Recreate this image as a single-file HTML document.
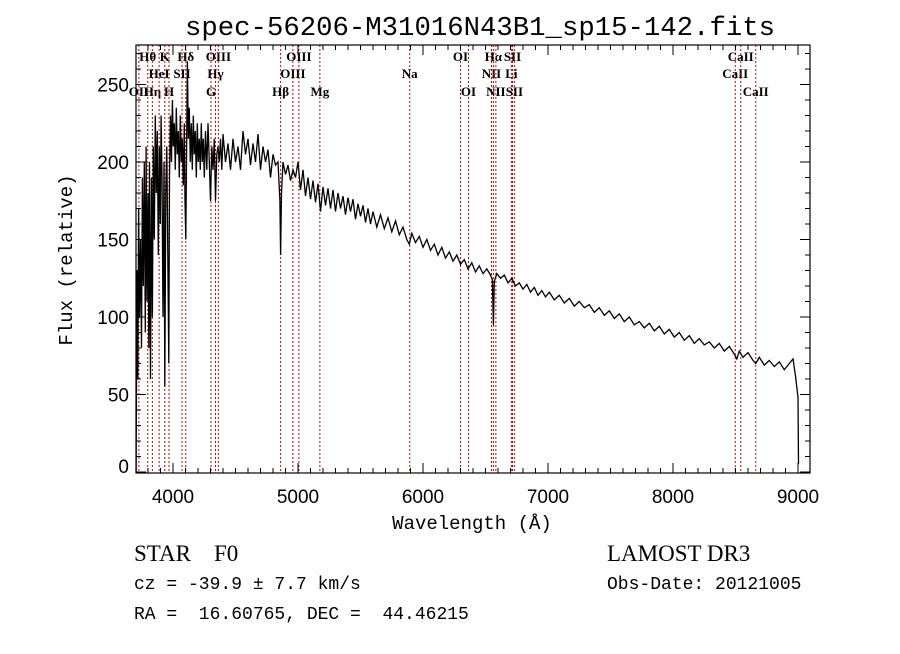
<!DOCTYPE html>
<html><head><meta charset="utf-8"><style>
body{margin:0;background:#fff;}
svg text{fill:#000}
</style></head><body>
<svg id="chart" width="900" height="649" viewBox="0 0 900 649" xmlns="http://www.w3.org/2000/svg">
<rect width="900" height="649" fill="#fff"/>
<text x="480" y="35" text-anchor="middle" font-family="Liberation Mono, monospace" font-size="27" textLength="590" lengthAdjust="spacingAndGlyphs">spec-56206-M31016N43B1_sp15-142.fits</text>
<g id="lines"></g>
<g id="spec"></g>
<g id="axes"></g>
<text x="472" y="529" text-anchor="middle" font-family="Liberation Mono, monospace" font-size="19">Wavelength (Å)</text>
<text transform="translate(72,260) rotate(-90)" text-anchor="middle" font-family="Liberation Mono, monospace" font-size="19">Flux (relative)</text>
<text x="134" y="561" font-family="Liberation Serif, serif" font-size="23" xml:space="preserve">STAR    F0</text>
<text x="607" y="561" font-family="Liberation Serif, serif" font-size="23">LAMOST DR3</text>
<text x="134" y="589" font-family="Liberation Mono, monospace" font-size="18">cz = -39.9 ± 7.7 km/s</text>
<text x="607" y="589" font-family="Liberation Mono, monospace" font-size="18">Obs-Date: 20121005</text>
<text x="134" y="619" font-family="Liberation Mono, monospace" font-size="18" xml:space="preserve">RA =  16.60765, DEC =  44.46215</text>
</svg>
<script>
const wave=[3705,3712,3718,3725,3732,3740,3748,3755,3762,3770,3778,3785,3792,3800,3806,3812,3820,3828,3835,3842,3850,3858,3866,3874,3882,3890,3898,3905,3912,3920,3928,3934,3942,3950,3958,3966,3972,3980,3988,3995,4002,4010,4018,4026,4034,4042,4050,4058,4066,4074,4082,4090,4096,4102,4108,4115,4122,4130,4138,4146,4154,4162,4170,4178,4186,4194,4202,4210,4218,4226,4234,4242,4250,4260,4270,4280,4290,4300,4310,4320,4330,4340,4350,4360,4370,4380,4390,4400,4420,4440,4460,4480,4500,4520,4540,4560,4580,4600,4620,4640,4660,4680,4700,4720,4740,4760,4780,4800,4820,4840,4855,4861,4868,4880,4900,4920,4940,4960,4980,5000,
5020,5040,5060,5080,5100,5120,5140,5160,5180,5200,5220,5240,5260,5280,5300,5320,5340,5360,5380,5400,5420,5440,5460,5480,5500,5520,5540,5560,5580,5600,5630,5660,5690,5720,5750,5780,5810,5840,5870,5890,5910,5940,5970,6000,6030,6060,6090,6120,6150,6180,6210,6240,6270,6300,6330,6360,6390,6420,6450,6480,6510,6540,6555,6563,6570,6590,6620,6650,6680,6710,6740,6770,6800,6830,6860,6890,6920,6950,6980,7010,7050,7090,7130,7170,7210,7250,7290,7330,7370,7410,7450,7490,7530,7570,7610,7650,7690,7730,7770,7810,7850,7890,7930,7970,8010,8050,8090,8130,8170,8210,8250,8290,8330,8370,8410,8450,8490,8510,8530,8560,8600,8640,8662,8690,8730,8770,8810,8850,8890,8930,8960,8980,9000,9004];
const flux=[0,130,60,170,100,150,80,190,120,200,90,210,110,180,80,200,60,190,100,210,150,230,180,220,140,210,160,230,190,100,200,55,180,210,140,70,190,230,200,240,210,225,195,235,205,220,190,230,200,215,185,225,175,150,200,265,215,235,200,225,195,230,205,220,190,225,200,215,195,225,200,215,190,220,195,225,200,175,210,195,215,175,205,210,200,215,195,218,200,212,195,215,200,210,195,220,205,215,198,212,200,218,195,210,200,208,190,205,198,200,175,140,180,200,192,198,188,195,190,200,
182,195,178,190,176,188,174,186,168,184,172,183,170,182,168,180,170,178,166,177,168,176,163,173,165,172,161,170,160,168,158,166,157,164,155,162,153,158,150,147,154,148,152,145,150,143,147,140,145,138,142,136,140,134,137,131,135,129,133,128,131,127,124,95,123,128,125,127,122,125,120,122,118,121,116,119,114,117,113,116,111,114,109,112,107,110,106,108,103,106,101,104,99,102,97,100,95,97,93,96,91,94,89,92,87,90,85,88,83,86,82,84,80,83,78,81,76,73,78,74,77,72,70,74,69,72,68,71,66,70,73,62,48,5];
const lineWaves=[3727,3798,3835,3889,3934,3968,4072,4102,4304,4340,4363,4861,4959,5007,5175,5894,6300,6364,6548,6563,6583,6707,6716,6731,8498,8542,8662];
const lineLabels=["OII","Hθ","Hη","HeI","K","H","SII","Hδ","G","Hγ","OIII","Hβ","OIII","OIII","Mg","Na","OI","OI","NII","Hα","NII","Li","SII","SII","CaII","CaII","CaII"];
const lineRows=[2,0,2,1,0,2,1,0,2,1,0,2,1,0,2,1,0,2,1,0,2,1,0,2,1,0,2];
const xTicks=[4000,5000,6000,7000,8000,9000];
const yTicks=[0,50,100,150,200,250];

const L=136,R=810,T=45,B=473;
const x=w=>298+(w-5000)*0.125;
const y=v=>472-v*1.55;
const NS="http://www.w3.org/2000/svg";
function mk(tag,parent,attrs){const e=document.createElementNS(NS,tag);for(const k in attrs)e.setAttribute(k,attrs[k]);parent.appendChild(e);return e;}
const gl=document.getElementById('lines');
const rowY=[61,78,96];
lineWaves.forEach((w,i)=>{
  const l=mk('line',gl,{x1:x(w),x2:x(w),y1:T,y2:B,stroke:'#c00','stroke-width':1,'stroke-dasharray':'2,2'});
  
  
  const t=mk('text',gl,{x:x(w),y:rowY[lineRows[i]],'text-anchor':'middle','font-family':'Liberation Serif, serif','font-size':13,'font-weight':'bold'});
  t.textContent=lineLabels[i];
  
  
});
const gs=document.getElementById('spec');
let d='';
wave.forEach((w,i)=>{d+=(i?'L':'M')+x(w).toFixed(1)+','+Math.max(T,y(flux[i])).toFixed(1);});
const p=mk('path',gs,{d:d,fill:'none',stroke:'#000','stroke-width':1.3});


const ga=document.getElementById('axes');
const fr=mk('rect',ga,{x:L,y:T,width:R-L,height:B-T,fill:'none',stroke:'#000','stroke-width':1.2});


for(let w=3800;w<=9000;w+=100){const big=w%1000===0;const len=big?10:5;
  mk('line',ga,{x1:x(w),x2:x(w),y1:B,y2:B-len,stroke:'#000'});
  mk('line',ga,{x1:x(w),x2:x(w),y1:T,y2:T+len,stroke:'#000'});}
for(let v=0;v<=270;v+=10){const big=v%50===0;const len=big?10:5;
  mk('line',ga,{x1:L,x2:L+len,y1:y(v),y2:y(v),stroke:'#000'});
  mk('line',ga,{x1:R,x2:R-len,y1:y(v),y2:y(v),stroke:'#000'});}
xTicks.forEach(w=>{const t=mk('text',ga,{x:x(w),y:503,'text-anchor':'middle','font-family':'Liberation Sans, sans-serif','font-size':19});t.textContent=w;
  
  });
yTicks.forEach(v=>{const t=mk('text',ga,{x:129,y:Math.min(y(v)+7,473),'text-anchor':'end','font-family':'Liberation Sans, sans-serif','font-size':19});t.textContent=v;
  
  });
</script>
</body></html>
